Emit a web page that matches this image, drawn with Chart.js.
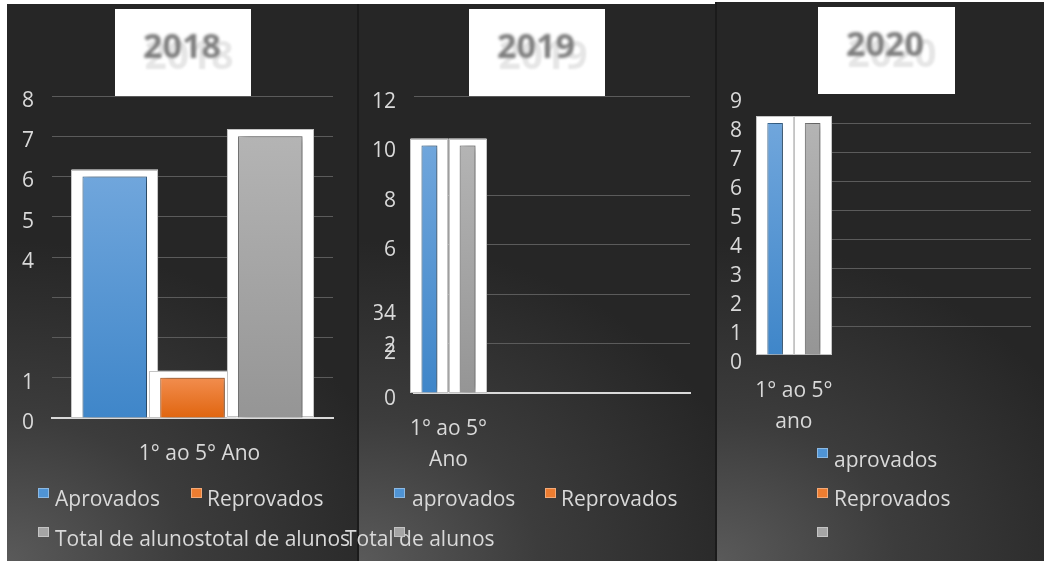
<!DOCTYPE html>
<html>
<head>
<meta charset="utf-8">
<script src="https://cdn.jsdelivr.net/npm/chart.js@4.4.1/dist/chart.umd.min.js"></script>
<style>
  body { margin: 0; background: #fff; width: 1044px; height: 561px; overflow: hidden; position: relative; }
  .painel { position: absolute; box-sizing: border-box;
    background: radial-gradient(ellipse 400px 320px at 0% 100%, #5a5a5a 0%, #3c3c3c 45%, #262626 100%); }
  canvas { position: absolute; left: 0; top: 0; }
</style>
</head>
<body>
<div class="painel" style="left:7px;top:4px;width:350px;height:557px;"></div>
<div class="painel" style="left:357px;top:4px;width:358px;height:557px;border-left:2px solid #1b1b1b;"></div>
<div class="painel" style="left:715px;top:2px;width:329px;height:559px;border-left:2px solid #1b1b1b;"></div>
<canvas id="g2018" width="1044" height="561"></canvas>
<canvas id="g2019" width="1044" height="561"></canvas>
<canvas id="g2020" width="1044" height="561"></canvas>
<script>
const anos = ['2018', '2019', '2020'];

const categorias2018 = ['1° ao 5° Ano'];
const categorias2019 = [['1° ao 5°', 'Ano']];
const categorias2020 = [['1° ao 5°', 'ano']];

const series2018 = ['Aprovados', 'Reprovados', 'Total de alunostotal de alunos'];
const series2019 = ['aprovados', 'Reprovados', 'Total de alunos'];
const series2020 = ['aprovados', 'Reprovados', ''];

const aprovados2018 = [6];
const reprovados2018 = [1];
const total2018 = [7];

const aprovados2019 = [10];
const reprovados2019 = [0];
const total2019 = [10];

const aprovados2020 = [8];
const reprovados2020 = [0];
const total2020 = [8];

// rótulos do eixo Y, de baixo para cima
const rotulosY2018 = ['0', '1', '', '', '4', '5', '6', '7', '8'];
const rotulosY2019 = ['0', ['2', '2'], ['', '34'], '6', '8', '10', '12'];
const rotulosY2020 = ['0', '1', '2', '3', '4', '5', '6', '7', '8', '9'];

const fonte = '"Open Sans", "Noto Sans", sans-serif';
const corTexto = '#d9d9d9';

const paleta = [
  { topo: '#70a6dc', base: '#3f86c9', borda: '#41719c', legenda: '#4f94d5' },
  { topo: '#f28d4e', base: '#e0650f', borda: '#b55a1e', legenda: '#ed7d31' },
  { topo: '#b4b4b4', base: '#959595', borda: '#7c7c7c', legenda: '#a5a5a5' }
];

function gradiente(topo, base) {
  return (ctx) => {
    const chart = ctx.chart;
    const y = chart.scales.y;
    if (!y || !ctx.raw) return base;
    const y0 = y.getPixelForValue(ctx.raw);
    const y1 = y.getPixelForValue(0);
    if (!isFinite(y0) || y1 - y0 < 1) return base;
    const g = chart.ctx.createLinearGradient(0, y0, 0, y1);
    g.addColorStop(0, topo);
    g.addColorStop(1, base);
    return g;
  };
}

function conjuntos(nomes, valores) {
  return nomes.map((nome, i) => ({
    label: nome,
    data: valores[i],
    backgroundColor: gradiente(paleta[i].topo, paleta[i].base),
    borderColor: paleta[i].borda,
    borderWidth: 1,
    barPercentage: 0.83,
    categoryPercentage: 0.83,
    corLegenda: paleta[i].legenda
  }));
}

// moldura branca atrás de cada barra
const caixasBarras = {
  id: 'caixasBarras',
  beforeDatasetsDraw(chart) {
    const ctx = chart.ctx;
    ctx.save();
    chart.data.datasets.forEach((ds, i) => {
      chart.getDatasetMeta(i).data.forEach((barra, j) => {
        if (!ds.data[j]) return;
        const p = barra.getProps(['x', 'y', 'base', 'width'], true);
        const x = p.x - p.width / 2 - 11;
        const y = p.y - 7;
        const w = p.width + 22;
        const h = p.base - y;
        ctx.fillStyle = '#ffffff';
        ctx.fillRect(x, y, w, h);
        ctx.strokeStyle = '#c4c4c4';
        ctx.lineWidth = 1;
        ctx.strokeRect(Math.round(x) + 0.5, Math.round(y) + 0.5, Math.round(w) - 1, Math.round(h) - 1);
      });
    });
    ctx.restore();
  }
};

const sombraBarras = {
  id: 'sombraBarras',
  beforeDatasetDraw(chart) {
    const ctx = chart.ctx;
    ctx.save();
    ctx.shadowColor = 'rgba(0,0,0,0.5)';
    ctx.shadowBlur = 8;
    ctx.shadowOffsetX = 3;
  },
  afterDatasetDraw(chart) {
    chart.ctx.restore();
  }
};

const caixaTitulo = {
  id: 'caixaTitulo',
  afterDraw(chart, args, o) {
    const ctx = chart.ctx;
    ctx.save();
    ctx.fillStyle = '#ffffff';
    ctx.fillRect(o.x, o.y, o.w, o.h);
    ctx.textAlign = 'center';
    ctx.textBaseline = 'middle';
    ctx.filter = 'blur(1px)';
    ctx.fillStyle = '#e6e6e6';
    ctx.font = 'bold 39px ' + fonte;
    ctx.fillText(o.texto, o.x + 74, o.y + 49);
    ctx.filter = 'blur(1.6px)';
    ctx.fillStyle = '#7e7e7e';
    ctx.font = 'bold 34px ' + fonte;
    ctx.fillText(o.texto, o.x + 67, o.y + 39);
    ctx.restore();
  }
};

const legendaItens = {
  id: 'legendaItens',
  afterDraw(chart, args, o) {
    const ctx = chart.ctx;
    ctx.save();
    ctx.font = '21px ' + fonte;
    ctx.textBaseline = 'middle';
    chart.data.datasets.forEach((ds, i) => {
      const p = o.posicoes[i];
      ctx.fillStyle = corTexto;
      ctx.fillText(ds.label, p.tx, p.ty);
      ctx.fillStyle = ds.corLegenda;
      ctx.fillRect(p.x, p.y, 11, 10);
      ctx.strokeStyle = 'rgba(255,255,255,0.35)';
      ctx.lineWidth = 1;
      ctx.strokeRect(p.x + 0.5, p.y + 0.5, 10, 9);
    });
    ctx.restore();
  }
};

function criarGrafico(id, cfg) {
  return new Chart(document.getElementById(id), {
    type: 'bar',
    data: { labels: cfg.rotulosX, datasets: conjuntos(cfg.series, cfg.valores) },
    options: {
      responsive: false,
      animation: false,
      devicePixelRatio: 1,
      layout: { padding: cfg.margens },
      plugins: {
        legend: { display: false },
        tooltip: { enabled: false },
        caixaTitulo: cfg.titulo,
        legendaItens: { posicoes: cfg.legenda }
      },
      scales: {
        x: {
          z: 1,
          grid: { display: false, drawTicks: false },
          border: { display: cfg.eixoX, color: corTexto, width: 2 },
          ticks: {
            color: corTexto,
            font: { family: fonte, size: 21, lineHeight: 1.45 },
            padding: 21,
            labelOffset: cfg.deslocX,
            maxRotation: 0,
            autoSkip: false
          },
          afterFit: (s) => { s.height = 80; }
        },
        y: {
          min: 0,
          max: cfg.maxY,
          ticks: {
            stepSize: cfg.passo,
            autoSkip: false,
            color: corTexto,
            padding: 18,
            labelOffset: cfg.deslocY,
            font: (c) => ({ family: fonte, size: 21, lineHeight: cfg.alturaLinha(c.tick ? c.tick.value : -1) }),
            callback: (v, i) => cfg.rotulosY[i]
          },
          grid: {
            drawTicks: false,
            lineWidth: 1,
            color: (c) => (c.tick && cfg.gradeOculta.includes(c.tick.value)) ? 'rgba(0,0,0,0)' : '#5b5b5b'
          },
          border: { display: false },
          afterFit: (s) => { s.width = 40; }
        }
      }
    },
    plugins: [caixasBarras, sombraBarras, caixaTitulo, legendaItens]
  });
}

criarGrafico('g2018', {
  rotulosX: categorias2018,
  series: series2018,
  valores: [aprovados2018, reprovados2018, total2018],
  rotulosY: rotulosY2018,
  maxY: 8, passo: 1,
  margens: { left: 12, right: 711, top: 96, bottom: 63 },
  eixoX: true, deslocX: 7, deslocY: 5,
  alturaLinha: () => 1.45,
  gradeOculta: [0],
  titulo: { x: 115, y: 9, w: 136, h: 87, texto: anos[0] },
  legenda: [
    { x: 38, y: 488, tx: 55, ty: 500 },
    { x: 191, y: 488, tx: 207, ty: 500 },
    { x: 38, y: 527, tx: 55, ty: 540 }
  ]
});

criarGrafico('g2019', {
  rotulosX: [...categorias2019, '', '', ''],
  series: series2019,
  valores: [aprovados2019, reprovados2019, total2019],
  rotulosY: rotulosY2019,
  maxY: 12, passo: 2,
  margens: { left: 374, right: 354, top: 96, bottom: 88 },
  eixoX: true, deslocX: 0, deslocY: 6,
  alturaLinha: (v) => v === 2 ? 0.3 : (v === 4 ? 1.35 : 1.45),
  gradeOculta: [0, 10],
  titulo: { x: 469, y: 9, w: 136, h: 87, texto: anos[1] },
  legenda: [
    { x: 394, y: 488, tx: 412, ty: 500 },
    { x: 545, y: 488, tx: 561, ty: 500 },
    { x: 394, y: 527, tx: 345, ty: 540 }
  ]
});

criarGrafico('g2020', {
  rotulosX: [...categorias2020, '', '', ''],
  series: series2020,
  valores: [aprovados2020, reprovados2020, total2020],
  rotulosY: rotulosY2020,
  maxY: 9, passo: 1,
  margens: { left: 720, right: 13, top: 94, bottom: 126 },
  eixoX: false, deslocX: 0, deslocY: 8,
  alturaLinha: () => 1.45,
  gradeOculta: [0, 9],
  titulo: { x: 818, y: 7, w: 137, h: 87, texto: anos[2] },
  legenda: [
    { x: 817, y: 448, tx: 834, ty: 461 },
    { x: 817, y: 488, tx: 834, ty: 500 },
    { x: 817, y: 527, tx: 834, ty: 540 }
  ]
});
</script>
</body>
</html>
